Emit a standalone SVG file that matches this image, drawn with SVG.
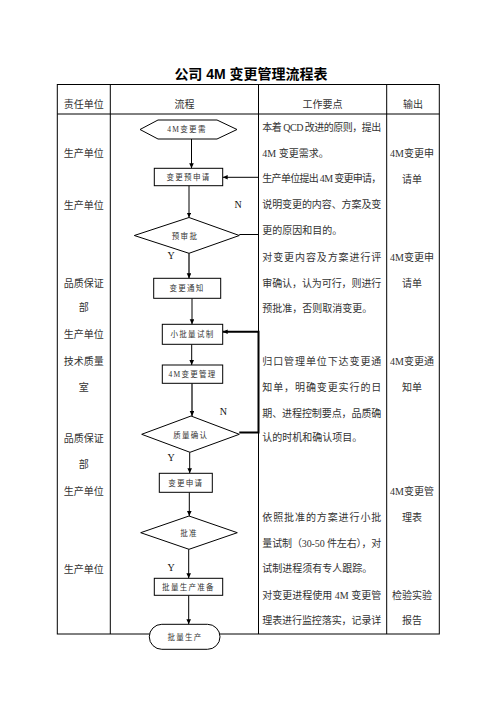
<svg xmlns="http://www.w3.org/2000/svg" width="496" height="702" viewBox="0 0 496 702">
<style>
.t{font-family:"Liberation Serif","Noto Sans CJK SC",serif;font-size:10px;fill:#333}
.c{text-anchor:middle}
.n{font-family:"Liberation Serif","Noto Sans CJK SC",serif;font-size:7.5px;fill:#333;text-anchor:middle;letter-spacing:1.3px}
.yn{font-family:"Liberation Serif",serif;font-size:10px;fill:#111;text-anchor:middle}
.grid{stroke:#000;stroke-width:1;fill:none}
.sh{fill:#fff;stroke:#000;stroke-width:1}
.ln{fill:none;stroke:#000;stroke-width:1}
.lg{fill:none;stroke:#555;stroke-width:1.8}
</style>
<defs>
<marker id="ah" markerUnits="userSpaceOnUse" markerWidth="6" markerHeight="6" refX="5" refY="2.3" orient="auto">
<path d="M0,0 L5,2.3 L0,4.6 z" fill="#000"/>
</marker>
</defs>
<rect width="496" height="702" fill="#fff"/>
<text x="251" y="78.5" text-anchor="middle" style="font-family:'Liberation Sans','Noto Sans CJK SC',sans-serif;font-size:14px;font-weight:bold;fill:#000">公司 4M 变更管理流程表</text>
<g id="table" class="grid">
<rect x="57.3" y="84.5" width="382" height="549.5"/>
<line x1="57.3" y1="114" x2="439.3" y2="114"/>
<line x1="110.3" y1="84.5" x2="110.3" y2="634"/>
<line x1="258.5" y1="84.5" x2="258.5" y2="634"/>
<line x1="386.7" y1="84.5" x2="386.7" y2="634"/>
</g>
<g id="header">
<text class="t c" x="83.8" y="107.8">责任单位</text>
<text class="t c" x="184.4" y="107.8">流程</text>
<text class="t c" x="322.6" y="107.8">工作要点</text>
<text class="t c" x="413" y="107.8">输出</text>
</g>
<g id="col-unit" class="t c">
<text x="83.8" y="156.5">生产单位</text>
<text x="83.8" y="208.8">生产单位</text>
<text x="83.8" y="286.5">品质保证</text>
<text x="83.8" y="310.8">部</text>
<text x="83.8" y="337.8">生产单位</text>
<text x="83.8" y="364.5">技术质量</text>
<text x="83.8" y="390.8">室</text>
<text x="83.8" y="441.8">品质保证</text>
<text x="83.8" y="467.8">部</text>
<text x="83.8" y="494.5">生产单位</text>
<text x="83.8" y="572.5">生产单位</text>
</g>
<g id="col-points" class="t">
<text x="262.3" y="131" textLength="119" lengthAdjust="spacing">本着 QCD 改进的原则，提出</text>
<text x="262.3" y="156.5">4M 变更需求。</text>
<text x="262.3" y="182" textLength="119" lengthAdjust="spacing">生产单位提出 4M 变更申请，</text>
<text x="262.3" y="208" textLength="119" lengthAdjust="spacing">说明变更的内容、方案及变</text>
<text x="262.3" y="234">更的原因和目的。</text>
<text x="262.3" y="260.5" textLength="119" lengthAdjust="spacing">对变更内容及方案进行评</text>
<text x="262.3" y="286.5" textLength="119" lengthAdjust="spacing">审确认，认为可行，则进行</text>
<text x="262.3" y="312">预批准，否则取消变更。</text>
<text x="262.3" y="364.5" textLength="119" lengthAdjust="spacing">归口管理单位下达变更通</text>
<text x="262.3" y="390.5" textLength="119" lengthAdjust="spacing">知单，明确变更实行的日</text>
<text x="262.3" y="416.5" textLength="119" lengthAdjust="spacing">期、进程控制要点，品质确</text>
<text x="262.3" y="441">认的时机和确认项目。</text>
<text x="262.3" y="521" textLength="119" lengthAdjust="spacing">依照批准的方案进行小批</text>
<text x="262.3" y="546.5" textLength="119" lengthAdjust="spacing">量试制（30-50 件左右），对</text>
<text x="262.3" y="572">试制进程须有专人跟踪。</text>
<text x="262.3" y="599" textLength="119" lengthAdjust="spacing">对变更进程使用 4M 变更管</text>
<text x="262.3" y="624" textLength="119" lengthAdjust="spacing">理表进行监控落实，记录详</text>
</g>
<g id="col-output" class="t c">
<text x="412" y="156.5">4M变更申</text>
<text x="412" y="182.8">请单</text>
<text x="412" y="260.5">4M变更申</text>
<text x="412" y="286.5">请单</text>
<text x="412" y="364.8">4M变更通</text>
<text x="412" y="391">知单</text>
<text x="412" y="494.5">4M变更管</text>
<text x="412" y="520.5">理表</text>
<text x="412" y="598.8">检验实验</text>
<text x="412" y="623.8">报告</text>
</g>
<g id="connectors">
<line class="ln" x1="191.5" y1="139" x2="191.5" y2="168.3" marker-end="url(#ah)"/>
<line class="ln" x1="189" y1="185.7" x2="189" y2="217.5" marker-end="url(#ah)"/>
<polyline class="ln" points="239.3,234.5 258.5,234.5 258.5,177.3 222.7,177.3" marker-end="url(#ah)"/>
<line class="lg" x1="189" y1="253.3" x2="189" y2="278.3" marker-end="url(#ah)"/>
<line class="ln" x1="192" y1="298.3" x2="192" y2="324.3" marker-end="url(#ah)"/>
<line class="ln" x1="191.7" y1="344.3" x2="191.7" y2="365" marker-end="url(#ah)"/>
<line class="lg" x1="192" y1="383.3" x2="192" y2="416" marker-end="url(#ah)"/>
<polyline class="ln" style="stroke-width:2" points="239.3,432.5 258.5,432.5 258.5,331.7 222.7,331.7" marker-end="url(#ah)"/>
<line class="ln" x1="189.7" y1="452.3" x2="189.7" y2="473.3" marker-end="url(#ah)"/>
<line class="ln" x1="189.3" y1="492.3" x2="189.3" y2="516" marker-end="url(#ah)"/>
<line class="ln" x1="188.7" y1="549.3" x2="188.7" y2="578.3" marker-end="url(#ah)"/>
<line class="ln" x1="188.7" y1="595.3" x2="188.7" y2="624.3" marker-end="url(#ah)"/>
<text class="yn" x="238" y="207.5">N</text>
<text class="yn" x="171" y="259.3">Y</text>
<text class="yn" x="223.3" y="415.2">N</text>
<text class="yn" x="171" y="460.8">Y</text>
<text class="yn" x="171" y="571.2">Y</text>
</g>
<g id="n-start">
<polygon class="sh" points="140,129.5 158,120 217,120 237,129.5 217,139 158,139"/>
<text class="n" x="187" y="132.4">4M变更需</text>
</g>
<g id="n-apply">
<rect class="sh" x="154.3" y="168.3" width="68.4" height="17.4"/>
<text class="n" x="188.5" y="179.9">变更预申请</text>
</g>
<g id="n-preapprove">
<polygon class="sh" points="134.3,235.5 189,217.5 239.3,235.5 189,253.3"/>
<text class="n" x="185" y="238.5">预审批</text>
</g>
<g id="n-notice">
<rect class="sh" x="153.7" y="278.3" width="67" height="20"/>
<text class="n" x="187" y="291.3">变更通知</text>
</g>
<g id="n-trial">
<rect class="sh" x="162.3" y="324.3" width="60.4" height="20"/>
<text class="n" x="192.5" y="337.2">小批量试制</text>
</g>
<g id="n-manage">
<rect class="sh" x="162.3" y="365" width="60.4" height="18.3"/>
<text class="n" x="192.5" y="377">4M变更管理</text>
</g>
<g id="n-quality">
<polygon class="sh" points="141.7,434.3 191,416 239.3,434.3 190,452.3"/>
<text class="n" x="190.8" y="437.5">质量确认</text>
</g>
<g id="n-request">
<rect class="sh" x="159.3" y="473.3" width="53" height="19"/>
<text class="n" x="185.8" y="485.8">变更申请</text>
</g>
<g id="n-approve">
<polygon class="sh" points="140.7,532.7 189,516 237.3,532.7 189,549.3"/>
<text class="n" x="189" y="535.8">批准</text>
</g>
<g id="n-prepare">
<rect class="sh" x="154.3" y="578.3" width="68.4" height="17"/>
<text class="n" x="188.5" y="589.8">批量生产准备</text>
</g>
<g id="n-end">
<rect class="sh" x="149.3" y="624.3" width="70.7" height="25" rx="12.5" ry="12.5"/>
<text class="n" x="185" y="639.8">批量生产</text>
</g>
</svg>
